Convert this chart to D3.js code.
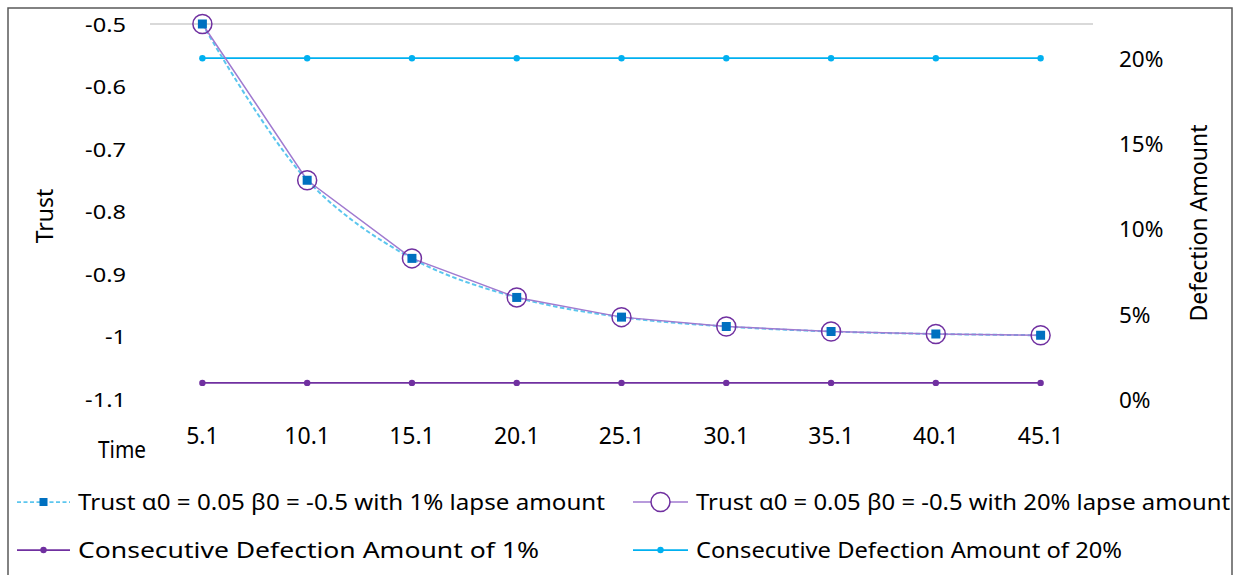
<!DOCTYPE html>
<html>
<head>
<meta charset="utf-8">
<script src="https://cdn.jsdelivr.net/npm/d3@7"></script>
<style>
  body { margin: 0; background: #fff; }
  svg { display: block; font-family: "Noto Sans", sans-serif; }
</style>
</head>
<body>
<svg id="chart" width="1241" height="575"></svg>
<script>
// Time steps (category axis)
const times = ["5.1", "10.1", "15.1", "20.1", "25.1", "30.1", "35.1", "40.1", "45.1"];
// Trust trajectories
const trust1 = [-0.5, -0.75, -0.875, -0.9375, -0.969, -0.984, -0.992, -0.996, -0.998];
const trust20 = [-0.5, -0.75, -0.875, -0.9375, -0.969, -0.984, -0.992, -0.996, -0.998];
// Defection amounts (right axis)
const defect1 = [0.01, 0.01, 0.01, 0.01, 0.01, 0.01, 0.01, 0.01, 0.01];
const defect20 = [0.2, 0.2, 0.2, 0.2, 0.2, 0.2, 0.2, 0.2, 0.2];
// Axis ticks
const trustTicks = [-0.5, -0.6, -0.7, -0.8, -0.9, -1, -1.1];
const pctTicks = [0, 0.05, 0.1, 0.15, 0.2];
const legendLabels = [
  "Trust \u03b10 = 0.05 \u03b20 = -0.5 with 1% lapse amount",
  "Trust \u03b10 = 0.05 \u03b20 = -0.5 with 20% lapse amount",
  "Consecutive Defection Amount of 1%",
  "Consecutive Defection Amount of 20%"
];

const svg = d3.select("#chart");
const C = {
  dash: "#5cc6ee", square: "#0070c0", purpleLine: "#a07ad0", purple: "#7030a0",
  cyan: "#00b0f0", text: "#000", grid: "#d9d9d9", border: "#595959"
};

// outer chart frame (bottom edge falls outside the window)
svg.append("path")
  .attr("d", "M8,580 L8,8 L1232,8 L1232,580")
  .attr("fill", "none").attr("stroke", C.border).attr("stroke-width", 1.5);

const x = d3.scaleBand().domain(times).range([150, 1093]);
const xc = d => x(d) + x.bandwidth() / 2;
const yL = d3.scaleLinear().domain([-1.1, -0.5]).range([399, 24]);
const yR = d3.scaleLinear().domain([0, 0.22]).range([400, 24]);

// top gridline
svg.append("line").attr("x1", 150).attr("x2", 1093)
  .attr("y1", yL(-0.5)).attr("y2", yL(-0.5))
  .attr("stroke", C.grid).attr("stroke-width", 2);

// left axis: labels are drawn slightly wide
const axL = svg.append("g").attr("transform", "translate(126,0)")
  .call(d3.axisLeft(yL).tickValues(trustTicks).tickSize(0).tickPadding(0)
    .tickFormat(d => String(+d.toFixed(1))));
axL.select(".domain").remove();
axL.selectAll(".tick text")
  .attr("x", null).attr("dy", null).attr("y", 7)
  .attr("font-size", 19.5).attr("fill", C.text).attr("font-family", "Noto Sans")
  .attr("transform", "scale(1.21,1)");

// right axis
const axR = svg.append("g").attr("transform", "translate(1119,0)")
  .call(d3.axisRight(yR).tickValues(pctTicks).tickSize(0).tickPadding(0)
    .tickFormat(d3.format(".0%")));
axR.select(".domain").remove();
axR.selectAll("text").attr("font-size", 22.5).attr("fill", C.text)
  .attr("font-family", "Noto Sans").attr("dy", "0.35em");

// x axis labels
const axX = svg.append("g").attr("transform", "translate(0,436)")
  .call(d3.axisBottom(x).tickSize(0).tickPadding(0));
axX.select(".domain").remove();
axX.selectAll("text").attr("font-size", 23).attr("fill", C.text)
  .attr("font-family", "Noto Sans").attr("y", 0).attr("dy", "0.36em");

// axis titles
svg.append("text").attr("x", 122).attr("y", 450).attr("text-anchor", "middle")
  .attr("dy", "0.36em").attr("font-size", 23).attr("fill", C.text)
  .attr("textLength", 48).attr("lengthAdjust", "spacingAndGlyphs").text("Time");
svg.append("text").attr("transform", "translate(45,216) rotate(-90)").attr("text-anchor", "middle")
  .attr("dy", "0.36em").attr("font-size", 23).attr("fill", C.text).text("Trust");
svg.append("text").attr("transform", "translate(1199,223) rotate(-90)").attr("text-anchor", "middle")
  .attr("dy", "0.36em").attr("font-size", 23).attr("fill", C.text).text("Defection Amount");

// defection lines
function flatSeries(vals, color) {
  const line = d3.line().x((d, i) => xc(times[i])).y(d => yR(d));
  svg.append("path").datum(vals).attr("d", line).attr("fill", "none")
    .attr("stroke", color).attr("stroke-width", 1.75);
  svg.append("g").selectAll("circle").data(vals).join("circle")
    .attr("cx", (d, i) => xc(times[i])).attr("cy", d => yR(d)).attr("r", 3.2).attr("fill", color);
}
flatSeries(defect20, C.cyan);
flatSeries(defect1, C.purple);

// trust (20%): straight purple segments with hollow circle markers
const line20 = d3.line().x((d, i) => xc(times[i])).y(d => yL(d));
// trust (1%): smoothed dashed line with square markers
const line1 = d3.line().curve(d3.curveCatmullRom.alpha(0.5)).x((d, i) => xc(times[i])).y(d => yL(d));
svg.append("path").datum(trust1).attr("d", line1).attr("fill", "none")
  .attr("stroke", C.dash).attr("stroke-width", 2).attr("stroke-dasharray", "4.5,2.5");
svg.append("path").datum(trust20).attr("d", line20).attr("fill", "none")
  .attr("stroke", C.purpleLine).attr("stroke-width", 1.5);

svg.append("g").selectAll("circle").data(trust20).join("circle")
  .attr("cx", (d, i) => xc(times[i])).attr("cy", d => yL(d)).attr("r", 9.5)
  .attr("fill", "none").attr("stroke", C.purple).attr("stroke-width", 1.5);
svg.append("g").selectAll("rect").data(trust1).join("rect")
  .attr("x", (d, i) => xc(times[i]) - 4.5).attr("y", d => yL(d) - 4.5)
  .attr("width", 9).attr("height", 9).attr("fill", C.square);

// legend
const leg = [
  { x: 17, y: 502, w: 53, type: "square" },
  { x: 633, y: 502, w: 55, type: "circle" },
  { x: 17, y: 550, w: 53, type: "dot1" },
  { x: 633, y: 550, w: 55, type: "dot20" }
];
const textLens = [527, 534, 461, 426];
leg.forEach((e, i) => {
  const g = svg.append("g");
  const mid = e.x + e.w / 2;
  if (e.type === "square") {
    g.append("line").attr("x1", e.x).attr("x2", e.x + e.w).attr("y1", e.y).attr("y2", e.y)
      .attr("stroke", C.dash).attr("stroke-width", 1.75).attr("stroke-dasharray", "4,2.5");
    g.append("rect").attr("x", mid - 4).attr("y", e.y - 4).attr("width", 8).attr("height", 8).attr("fill", C.square);
  } else if (e.type === "circle") {
    g.append("line").attr("x1", e.x).attr("x2", e.x + e.w).attr("y1", e.y).attr("y2", e.y)
      .attr("stroke", C.purpleLine).attr("stroke-width", 1.5);
    g.append("circle").attr("cx", mid).attr("cy", e.y).attr("r", 9.5).attr("fill", "#fff")
      .attr("stroke", C.purple).attr("stroke-width", 1.5);
  } else {
    const col = e.type === "dot1" ? C.purple : C.cyan;
    g.append("line").attr("x1", e.x).attr("x2", e.x + e.w).attr("y1", e.y).attr("y2", e.y)
      .attr("stroke", col).attr("stroke-width", 1.75);
    g.append("circle").attr("cx", mid).attr("cy", e.y).attr("r", 3.2).attr("fill", col);
  }
  g.append("text").attr("x", e.x + e.w + 8).attr("y", e.y).attr("dy", "0.36em")
    .attr("font-size", 21.5).attr("fill", C.text)
    .attr("textLength", textLens[i]).attr("lengthAdjust", "spacingAndGlyphs")
    .text(legendLabels[i]);
});
</script>
</body>
</html>
